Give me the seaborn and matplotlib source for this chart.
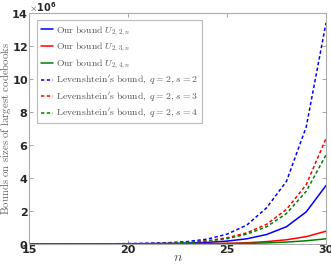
import numpy as np
import matplotlib
matplotlib.use('Agg')
import matplotlib.pyplot as plt
import seaborn as sns
from matplotlib.ticker import ScalarFormatter

# dados (n = 15..30)
n = list(range(15, 31))

our_s2 = [0, 0, 0.002e6, 0.004e6, 0.008e6, 0.015e6, 0.025e6, 0.04e6, 0.06e6, 0.1e6,
          0.18e6, 0.32e6, 0.58e6, 1.05e6, 1.95e6, 3.55e6]
our_s3 = [0, 0, 0, 0.001e6, 0.002e6, 0.004e6, 0.007e6, 0.012e6, 0.02e6, 0.03e6,
          0.045e6, 0.08e6, 0.15e6, 0.26e6, 0.45e6, 0.78e6]
our_s4 = [0, 0, 0, 0, 0.001e6, 0.002e6, 0.003e6, 0.005e6, 0.009e6, 0.015e6,
          0.025e6, 0.04e6, 0.07e6, 0.12e6, 0.2e6, 0.32e6]
lev_s2 = [0.001e6, 0.002e6, 0.004e6, 0.008e6, 0.015e6, 0.03e6, 0.05e6, 0.08e6, 0.15e6, 0.3e6,
          0.6e6, 1.15e6, 2.2e6, 3.8e6, 7.1e6, 13.4e6]
lev_s3 = [0, 0.001e6, 0.002e6, 0.004e6, 0.008e6, 0.015e6, 0.025e6, 0.05e6, 0.1e6, 0.2e6,
          0.38e6, 0.68e6, 1.2e6, 2.1e6, 3.6e6, 6.4e6]
lev_s4 = [0, 0.001e6, 0.002e6, 0.003e6, 0.007e6, 0.013e6, 0.022e6, 0.045e6, 0.09e6, 0.18e6,
          0.33e6, 0.6e6, 1.05e6, 1.85e6, 3.2e6, 5.4e6]

labels = [r'$\mathrm{Our\ bound}\ U_{2,2,n}$',
          r'$\mathrm{Our\ bound}\ U_{2,3,n}$',
          r'$\mathrm{Our\ bound}\ U_{2,4,n}$',
          r"$\mathrm{Levenshtein's\ bound,}\ q=2,\, s=2$",
          r"$\mathrm{Levenshtein's\ bound,}\ q=2,\, s=3$",
          r"$\mathrm{Levenshtein's\ bound,}\ q=2,\, s=4$"]
series = [our_s2, our_s3, our_s4, lev_s2, lev_s3, lev_s4]
cores = ['#0000ff', '#ff0000', '#008000', '#0000ff', '#ff0000', '#008000']

sns.set_style("white")
plt.rcParams['mathtext.fontset'] = 'cm'
plt.rcParams['font.family'] = ['DejaVu Sans']

fig = plt.figure(figsize=(3.31, 2.65), dpi=100)
ax = fig.add_axes([0.088, 0.079, 0.897, 0.872])

for i, (vals, lab, cor) in enumerate(zip(series, labels, cores)):
    ls = '-' if i < 3 else (0, (2.2, 1.6))
    sns.lineplot(x=n, y=vals, ax=ax, color=cor, linewidth=1.1, linestyle=ls, label=lab)

ax.set_xlim(15, 30)
ax.set_ylim(0, 14e6)
ax.set_xticks([15, 20, 25, 30])
ax.set_yticks(np.arange(0, 15e6, 2e6))

fmt = ScalarFormatter(useMathText=True)
fmt.set_powerlimits((6, 6))
ax.yaxis.set_major_formatter(fmt)
ax.yaxis.OFFSETTEXTPAD = 0.5
ax.yaxis.get_offset_text().set_fontsize(7)
ax.yaxis.get_offset_text().set_fontweight('bold')

ax.tick_params(direction='in', length=3, width=0.6, color='#999999', labelsize=8,
               pad=1, top=True, right=True, bottom=True, left=True)
ax.tick_params(axis='y', pad=0.5)
for lbl in ax.get_xticklabels() + ax.get_yticklabels():
    lbl.set_fontweight('bold')
for sp in ax.spines.values():
    sp.set_color('#aaaaaa')
    sp.set_linewidth(0.8)

ax.set_xlabel(r'$n$', fontsize=10, color='#555555', labelpad=-4)
ax.set_ylabel(r'$\mathrm{Bounds\ on\ sizes\ of\ largest\ codebooks}$', fontsize=7.8,
              color='#666666')
ax.yaxis.set_label_coords(-0.054, 0.5)

leg = ax.legend(loc='upper left', fontsize=7, frameon=True, fancybox=False,
                handlelength=1.3, handletextpad=0.3, borderpad=0.35, labelspacing=0.3,
                borderaxespad=0, bbox_to_anchor=(0.027, 0.968))
leg.get_frame().set_edgecolor('#aaaaaa')
leg.get_frame().set_linewidth(0.8)
for t in leg.get_texts():
    t.set_color('#555555')

plt.savefig('out.png', dpi=100)
